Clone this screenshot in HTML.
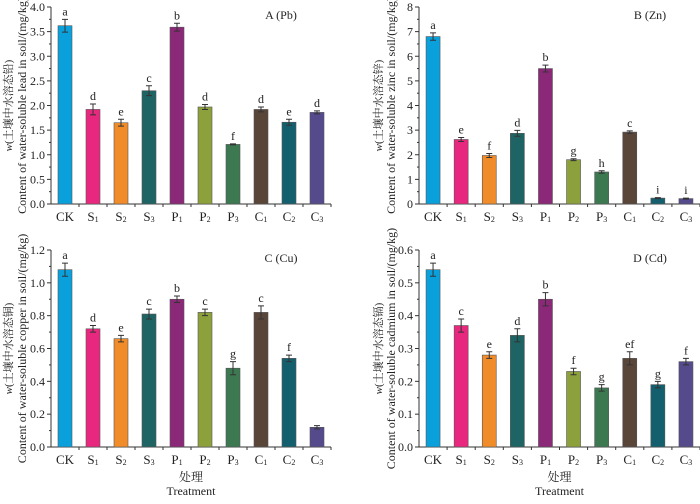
<!DOCTYPE html>
<html><head><meta charset="utf-8"><style>
body{margin:0;background:#fff;width:700px;height:499px;overflow:hidden}
svg text{font-family:"Liberation Serif","Noto Serif CJK SC",serif;fill:#222}
</style></head><body>
<svg id="chart" width="700" height="499" viewBox="0 0 700 499" xmlns="http://www.w3.org/2000/svg"></svg>
<script>
const categories=["CK","S1","S2","S3","P1","P2","P3","C1","C2","C3"];
const colors=["#0aa0dc","#e8287f","#f08c2a","#1e6464","#8c2878","#8ca03c","#3c7850","#5a4638","#145f6e","#554a8c"];
const pbValues=[3.62,1.92,1.65,2.30,3.59,1.97,1.21,1.92,1.66,1.86];
const pbErrors=[0.13,0.11,0.07,0.10,0.08,0.05,0.01,0.05,0.06,0.03];
const pbLetters=["a","d","e","c","b","d","f","d","e","d"];
const pbTicks=["0.0","0.5","1.0","1.5","2.0","2.5","3.0","3.5","4.0"];
const znValues=[6.80,2.62,1.97,2.87,5.50,1.80,1.30,2.92,0.24,0.22];
const znErrors=[0.15,0.08,0.08,0.12,0.14,0.04,0.05,0.05,0.02,0.02];
const znLetters=["a","e","f","d","b","g","h","c","i","i"];
const znTicks=["0","1","2","3","4","5","6","7","8"];
const cuValues=[1.08,0.72,0.66,0.81,0.90,0.82,0.48,0.82,0.54,0.12];
const cuErrors=[0.04,0.02,0.02,0.03,0.02,0.02,0.04,0.04,0.02,0.01];
const cuLetters=["a","d","e","c","b","c","g","c","f",""];
const cuTicks=["0.0","0.2","0.4","0.6","0.8","1.0","1.2"];
const cdValues=[0.54,0.37,0.28,0.34,0.45,0.23,0.18,0.27,0.19,0.26];
const cdErrors=[0.02,0.02,0.01,0.02,0.02,0.01,0.01,0.02,0.01,0.01];
const cdLetters=["a","c","e","d","b","f","g","ef","g","f"];
const cdTicks=["0.0","0.1","0.2","0.3","0.4","0.5","0.6"];

const NS="http://www.w3.org/2000/svg";
const svg=document.getElementById('chart');
function mk(tag,attrs,parent,text){const e=document.createElementNS(NS,tag);for(const k in attrs)e.setAttribute(k,attrs[k]);if(text!==undefined)e.textContent=text;(parent||svg).appendChild(e);return e;}

function panel(id,x0,x1,yTop,yZero,max,ticks,vals,errs,letters,title,zh,en,labX1,labX2,showTreat){
  const g=mk('g',{});
  
  
  const ys=v=>yZero-(v/max)*(yZero-yTop);
  const bw=(x1-x0)/categories.length;
  const xs=i=>x0+bw*(i+0.5);
  const ax=mk('line',{x1:x0,y1:yTop,x2:x0,y2:yZero,stroke:'#333','stroke-width':1},g);
  
  const bx=mk('line',{x1:x0,y1:yZero,x2:x1,y2:yZero,stroke:'#333','stroke-width':1},g);
  
  const step=max/(ticks.length-1);
  ticks.forEach((t,i)=>{
    const y=ys(step*i);
    mk('line',{x1:x0-4,y1:y,x2:x0,y2:y,stroke:'#333'},g);
    if(i<ticks.length-1)mk('line',{x1:x0-2,y1:ys(step*(i+0.5)),x2:x0,y2:ys(step*(i+0.5)),stroke:'#333'},g);
    const tl=mk('text',{x:x0-6,y:y+4,'text-anchor':'end','font-size':12},g,t);
    
  });
  categories.forEach((c,i)=>{
    const x=xs(i);
    mk('line',{x1:x0+bw*(i+1),y1:yZero,x2:x0+bw*(i+1),y2:yZero+3,stroke:'#333'},g);
    const b=mk('rect',{x:x-7,y:ys(vals[i]),width:14,height:yZero-ys(vals[i]),fill:colors[i],stroke:'#555','stroke-width':0.6},g);
    
    const yh=ys(vals[i]+errs[i]),yl=ys(vals[i]-errs[i]);
    mk('path',{d:`M${x},${yh}V${yl}M${x-3},${yh}H${x+3}M${x-3},${yl}H${x+3}`,stroke:'#333','stroke-width':1,fill:'none'},g);
    if(letters[i]){const l=mk('text',{x:x,y:yh-4,'text-anchor':'middle','font-size':12},g,letters[i]);
      }
    const tl=mk('text',{x:x,y:yZero+17,'text-anchor':'middle','font-size':13},g);
    
    tl.textContent=c[0];
    if(c.length>1&&c!=="CK"){mk('tspan',{'font-size':8,dy:1},tl,c.slice(1));}
    else tl.textContent=c;
  });
  const tt=mk('text',{x:x1-50,y:yTop+12,'text-anchor':'middle','font-size':12},g,title);
  
  const cy=(yTop+yZero)/2;
  const l1=mk('text',{x:labX1,y:cy,'text-anchor':'middle','font-size':11,transform:`rotate(-90 ${labX1} ${cy})`},g);
  
  mk('tspan',{'font-style':'italic'},l1,'w');mk('tspan',{},l1,zh);
  const l2=mk('text',{x:labX2,y:cy,'text-anchor':'middle','font-size':12,transform:`rotate(-90 ${labX2} ${cy})`},g,en);
  
  if(showTreat){const cx=(x0+x1)/2;
    const a=mk('text',{x:cx,y:481,'text-anchor':'middle','font-size':12},g,'处理');
    
    const b=mk('text',{x:cx,y:495,'text-anchor':'middle','font-size':12},g,'Treatment');
    }
}
panel('a',51,331,7,204,4,pbTicks,pbValues,pbErrors,pbLetters,'A (Pb)','(土壤中水溶态铅)','Content of water-soluble lead in soil/(mg/kg)',12,26,false);
panel('b',419,700,7,204,8,znTicks,znValues,znErrors,znLetters,'B (Zn)','(土壤中水溶态锌)','Content of water-soluble zinc in soil/(mg/kg)',382,395,false);
panel('c',51,331,250,447,1.2,cuTicks,cuValues,cuErrors,cuLetters,'C (Cu)','(土壤中水溶态铜)','Content of water-soluble copper in soil/(mg/kg)',12,26,true);
panel('d',419,700,250,447,0.6,cdTicks,cdValues,cdErrors,cdLetters,'D (Cd)','(土壤中水溶态镉)','Content of water-soluble cadmium in soil/(mg/kg)',382,395,true);
</script>
</body></html>
